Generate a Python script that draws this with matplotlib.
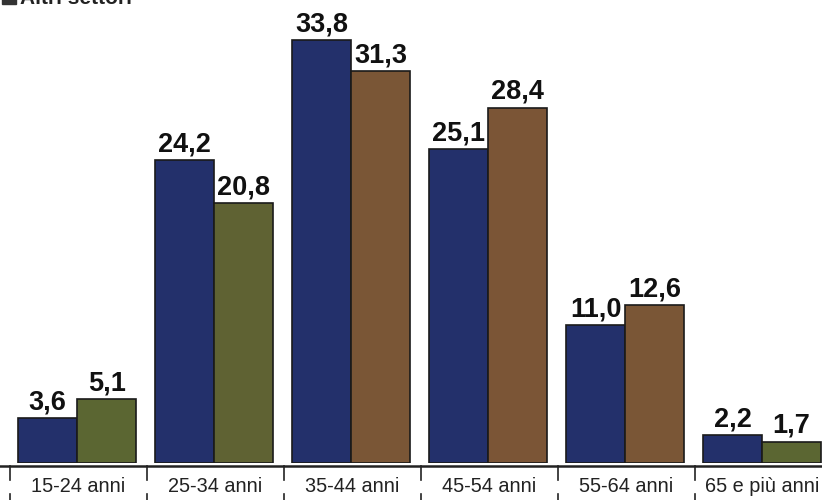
import numpy as np
import matplotlib
matplotlib.use("Agg")
import matplotlib.pyplot as plt

# Data
categories = ["15-24 anni", "25-34 anni", "35-44 anni", "45-54 anni", "55-64 anni", "65 e più anni"]
serie_blu = [3.6, 24.2, 33.8, 25.1, 11.0, 2.2]
altri_settori = [5.1, 20.8, 31.3, 28.4, 12.6, 1.7]

blue = "#23306b"
green_colors = ["#5b6632", "#5f6233", "#7a5636", "#7b5536", "#7a5636", "#5b6632"]

plt.rcParams['font.family'] = ['Liberation Sans', 'DejaVu Sans']

fig = plt.figure(figsize=(8.22, 5.0), dpi=100)
W, H = 822, 500
base_px = 463
ax = fig.add_axes([0, (H - base_px) / H, 1, base_px / H])

cat_w = 137.0
left_px = 10.0
x = np.arange(len(categories))
ax.set_xlim(-0.5 - left_px / cat_w, -0.5 - left_px / cat_w + W / cat_w)
ax.set_ylim(0, base_px / 12.51)

bw = 0.43
bars_b = ax.bar(x - 0.226, serie_blu, bw, color=blue, edgecolor="#1a1a1a", linewidth=1.2)
bars_g = ax.bar(x + 0.205, altri_settori, bw, color=green_colors, edgecolor="#1a1a1a", linewidth=1.2)

# value labels
for bars, vals in [(bars_b, serie_blu), (bars_g, altri_settori)]:
    for b, v in zip(bars, vals):
        ax.annotate(f"{v:.1f}".replace(".", ","),
                    (b.get_x() + b.get_width() / 2, b.get_height()),
                    xytext=(0, 2), textcoords="offset points",
                    ha="center", va="bottom", fontsize=19.5, fontweight="bold", color="#111111")

for s in ax.spines.values():
    s.set_visible(False)
ax.set_xticks([])
ax.set_yticks([])

# category axis below the bars
line_y = 1 - 466 / H
fig.add_artist(plt.Line2D([0, 1], [line_y, line_y], color="#222222", lw=1.8))
for i in range(len(categories) + 1):
    xf = (left_px + i * cat_w) / W
    fig.add_artist(plt.Line2D([xf, xf], [line_y, 1 - 480 / H], color="#222222", lw=1.2))
    fig.add_artist(plt.Line2D([xf, xf], [1 - 494 / H, 0], color="#222222", lw=1.2))
for i, c in enumerate(categories):
    xf = (left_px + (i + 0.5) * cat_w) / W
    if i == len(categories) - 1:
        xf = 762 / W
    fig.text(xf, 1 - 487 / H, c, ha="center", va="center", fontsize=14.3, color="#222222")

# legend remnant at the top edge (cut off, as in the reference)
fig.add_artist(plt.Rectangle((2 / W, 1 - 4 / H), 14 / W, 10 / H, color="#333333"))
fig.text(20 / W, 1 - 4 / H, "Altri settori", ha="left", va="baseline", fontsize=15,
         fontweight="bold", color="#222222")

fig.savefig("out.png", dpi=100)
